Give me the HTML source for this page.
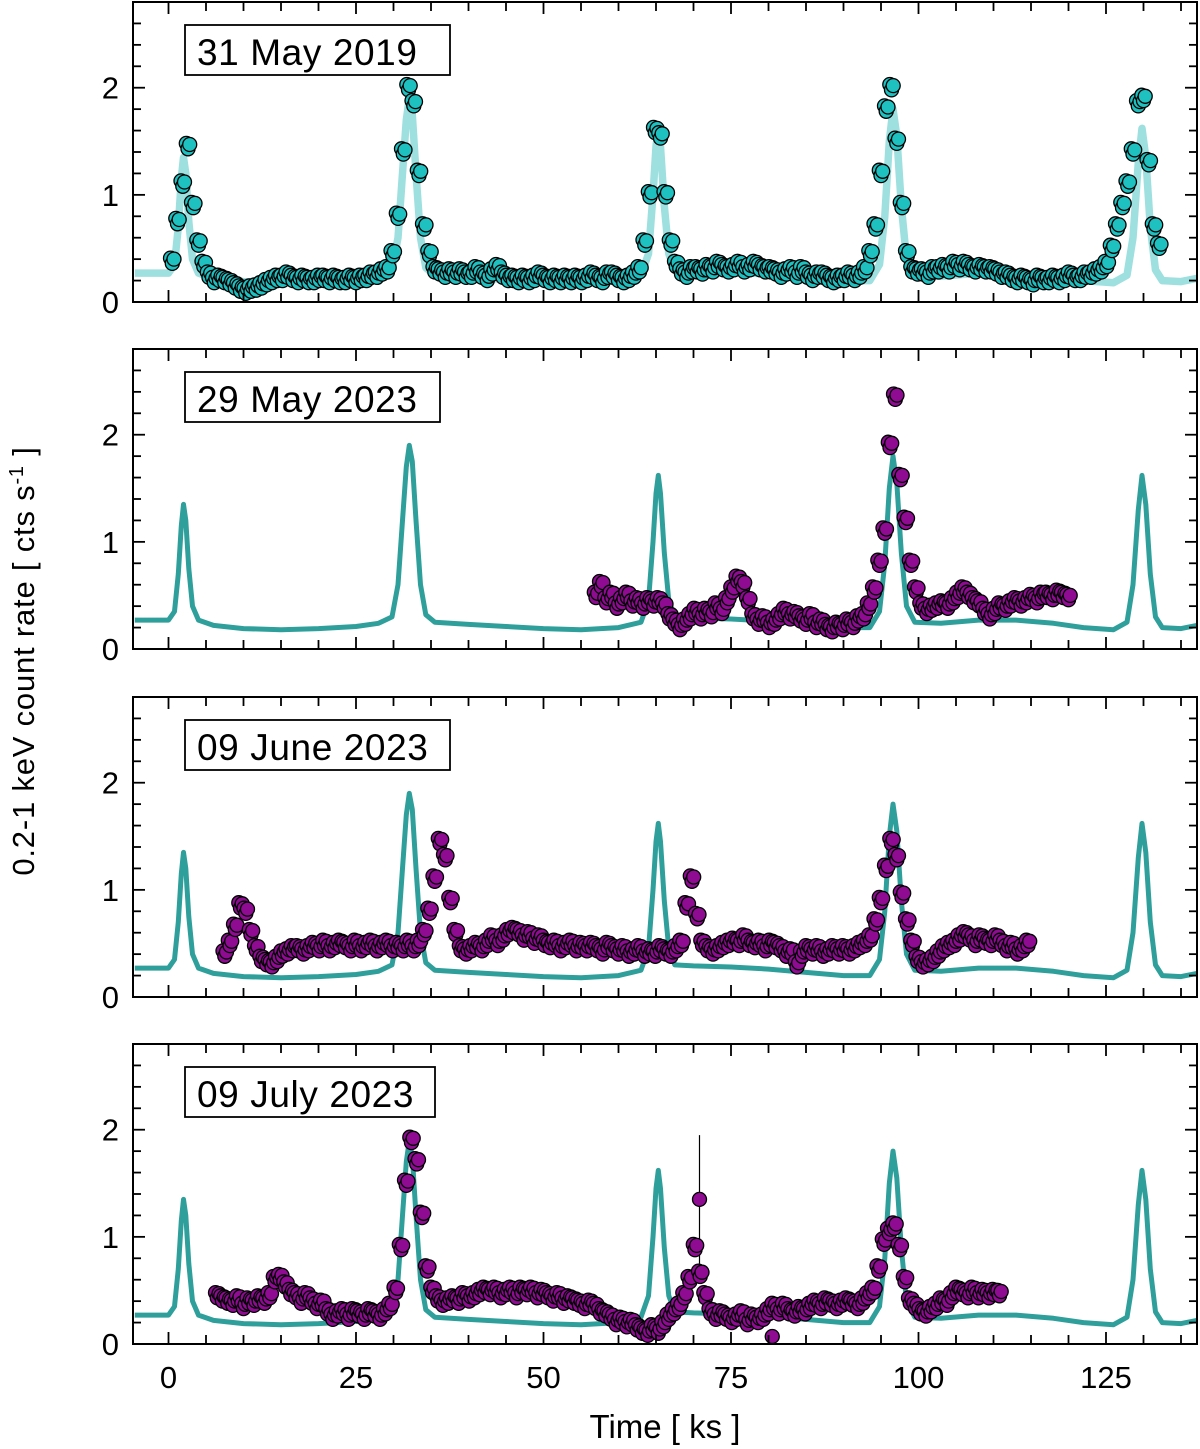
<!DOCTYPE html>
<html><head><meta charset="utf-8"><style>
html,body{margin:0;padding:0;background:#fff;}
svg{display:block;font-family:"Liberation Sans",Arial,sans-serif;}
</style></head><body>
<svg id="chart" width="1200" height="1449" viewBox="0 0 1200 1449" xmlns="http://www.w3.org/2000/svg"></svg>
<script>
// ---- data ----
const xTicks = [0, 25, 50, 75, 100, 125];
const yTicks = [0, 1, 2];
const panelLabels = ["31 May 2019", "29 May 2023", "09 June 2023", "09 July 2023"];
const modelT = [-4.5,0,0.8,1.3,1.7,2.0,2.3,2.7,3.2,4,6,10,15,20,25,28,29.8,30.6,31.2,31.7,32.1,32.5,33,33.6,34.3,35.5,40,45,50,55,60,63,64,64.6,65.0,65.3,65.6,66.1,66.7,67.5,70,75,80,85,90,93.5,94.8,95.5,96.1,96.6,97.1,97.7,98.4,99.5,103,108,113,118,122,126,127.8,128.6,129.3,129.8,130.3,130.9,131.6,132.5,135,137.1];
const modelV = [0.27,0.27,0.35,0.7,1.15,1.35,1.2,0.75,0.4,0.27,0.22,0.19,0.18,0.19,0.21,0.24,0.3,0.6,1.2,1.7,1.9,1.75,1.2,0.6,0.32,0.25,0.23,0.21,0.19,0.18,0.2,0.25,0.45,1.0,1.45,1.62,1.45,0.9,0.45,0.3,0.29,0.28,0.26,0.23,0.2,0.2,0.35,0.8,1.5,1.8,1.55,0.9,0.4,0.25,0.24,0.27,0.27,0.24,0.2,0.18,0.25,0.6,1.3,1.62,1.35,0.7,0.3,0.2,0.19,0.22];
const dataStart = [0.5, 57, 7.5, 6.5];
const dataStep = 0.7;
const rates2019 = [0.38,0.75,1.1,1.45,0.9,0.55,0.35,0.25,0.2,0.22,0.2,0.18,0.15,0.12,0.1,0.12,0.13,0.15,0.18,0.2,0.22,0.22,0.25,0.22,0.2,0.22,0.2,0.2,0.22,0.22,0.2,0.22,0.2,0.2,0.22,0.2,0.22,0.22,0.25,0.25,0.28,0.3,0.45,0.8,1.4,2.0,1.85,1.2,0.7,0.45,0.3,0.28,0.25,0.28,0.25,0.28,0.25,0.25,0.3,0.25,0.22,0.28,0.32,0.25,0.22,0.22,0.2,0.22,0.2,0.22,0.25,0.22,0.2,0.22,0.2,0.22,0.2,0.22,0.2,0.22,0.25,0.22,0.2,0.25,0.25,0.22,0.2,0.22,0.25,0.3,0.55,1.0,1.6,1.55,1.0,0.55,0.35,0.28,0.25,0.3,0.3,0.28,0.32,0.3,0.35,0.32,0.3,0.32,0.35,0.3,0.32,0.35,0.32,0.3,0.3,0.28,0.25,0.28,0.3,0.25,0.3,0.25,0.22,0.25,0.25,0.22,0.2,0.22,0.22,0.25,0.22,0.25,0.3,0.45,0.7,1.2,1.8,2.0,1.5,0.9,0.45,0.3,0.28,0.28,0.25,0.3,0.3,0.32,0.3,0.35,0.32,0.35,0.32,0.3,0.32,0.3,0.3,0.28,0.25,0.25,0.22,0.2,0.22,0.2,0.18,0.22,0.2,0.2,0.22,0.2,0.22,0.25,0.22,0.22,0.25,0.25,0.28,0.3,0.35,0.5,0.7,0.9,1.1,1.4,1.85,1.9,1.3,0.7,0.52];
const ratesMay2023 = [0.5,0.6,0.45,0.5,0.4,0.45,0.5,0.42,0.45,0.4,0.45,0.42,0.45,0.4,0.3,0.25,0.2,0.25,0.3,0.35,0.3,0.35,0.32,0.4,0.35,0.45,0.55,0.65,0.6,0.45,0.3,0.25,0.28,0.22,0.25,0.3,0.35,0.3,0.32,0.28,0.25,0.3,0.22,0.25,0.2,0.18,0.22,0.2,0.25,0.22,0.28,0.3,0.4,0.55,0.8,1.1,1.9,2.35,1.6,1.2,0.8,0.55,0.4,0.35,0.38,0.4,0.42,0.4,0.45,0.5,0.55,0.5,0.45,0.42,0.35,0.3,0.35,0.4,0.38,0.42,0.45,0.42,0.45,0.48,0.45,0.5,0.5,0.48,0.52,0.5,0.48];
const ratesJun2023 = [0.4,0.5,0.65,0.85,0.8,0.6,0.45,0.35,0.32,0.3,0.35,0.4,0.42,0.45,0.45,0.42,0.45,0.48,0.45,0.5,0.45,0.48,0.5,0.48,0.45,0.5,0.45,0.48,0.5,0.45,0.48,0.5,0.45,0.48,0.45,0.5,0.45,0.5,0.6,0.8,1.1,1.45,1.3,0.9,0.6,0.45,0.42,0.45,0.48,0.45,0.5,0.55,0.5,0.55,0.6,0.62,0.6,0.55,0.58,0.52,0.55,0.5,0.48,0.5,0.45,0.48,0.5,0.45,0.48,0.45,0.48,0.45,0.42,0.48,0.45,0.42,0.45,0.4,0.42,0.45,0.4,0.42,0.4,0.45,0.42,0.4,0.45,0.5,0.85,1.1,0.75,0.5,0.45,0.42,0.45,0.48,0.5,0.52,0.5,0.55,0.5,0.48,0.5,0.45,0.5,0.48,0.45,0.4,0.42,0.3,0.4,0.45,0.42,0.45,0.4,0.42,0.45,0.42,0.45,0.42,0.45,0.48,0.5,0.55,0.7,0.9,1.2,1.45,1.3,0.95,0.7,0.5,0.35,0.3,0.32,0.35,0.4,0.45,0.48,0.5,0.55,0.58,0.55,0.5,0.55,0.52,0.5,0.55,0.5,0.45,0.48,0.42,0.45,0.5];
const ratesJul2023 = [0.45,0.42,0.4,0.38,0.42,0.35,0.4,0.38,0.42,0.4,0.45,0.6,0.62,0.55,0.48,0.45,0.4,0.45,0.4,0.35,0.38,0.3,0.25,0.28,0.3,0.25,0.3,0.28,0.25,0.3,0.28,0.25,0.3,0.35,0.5,0.9,1.5,1.9,1.7,1.2,0.7,0.5,0.42,0.38,0.4,0.42,0.4,0.45,0.42,0.45,0.48,0.5,0.48,0.5,0.45,0.48,0.5,0.45,0.5,0.48,0.5,0.45,0.48,0.45,0.42,0.45,0.4,0.42,0.4,0.38,0.35,0.38,0.35,0.3,0.28,0.25,0.2,0.22,0.18,0.2,0.15,0.12,0.1,0.15,0.12,0.18,0.25,0.3,0.35,0.45,0.6,0.9,0.65,0.45,0.3,0.25,0.28,0.25,0.22,0.25,0.28,0.2,0.25,0.22,0.25,0.3,0.35,0.3,0.35,0.3,0.28,0.32,0.3,0.35,0.38,0.35,0.4,0.38,0.35,0.38,0.4,0.38,0.35,0.4,0.45,0.5,0.7,0.95,1.05,1.1,0.9,0.6,0.4,0.35,0.3,0.28,0.32,0.35,0.4,0.38,0.45,0.5,0.48,0.45,0.5,0.45,0.48,0.45,0.48,0.47];
const outlierT = [70.8, 80.5];
const outlierV = [1.35, 0.07];
const outlierErr = [0.6, 0.03];
const allRates = [rates2019, ratesMay2023, ratesJun2023, ratesJul2023];

// ---- layout ----
const NS = "http://www.w3.org/2000/svg";
const svg = document.getElementById("chart");
const L = 133, R = 1197;
const panelTop = [2, 349, 697, 1044];
const panelH = 300;
const yMax = 2.8;
const xScale = t => 168.5 + t * 7.5;
function yScale(p, v) { return panelTop[p] + panelH - v * (panelH / yMax); }
const labelBoxW = [265, 255, 265, 250];

function mk(tag, attrs, parent) {
  const e = document.createElementNS(NS, tag);
  for (const k in attrs) e.setAttribute(k, attrs[k]);
  (parent || svg).appendChild(e);
  return e;
}

for (let p = 0; p < 4; p++) {
  const g = mk("g", {});
  
  
  const top = panelTop[p], bot = top + panelH;
  const clipId = "clip" + p;
  const cp = mk("clipPath", { id: clipId }, g);
  mk("rect", { x: L, y: top, width: R - L, height: panelH }, cp);

  // model curve
  let d = "";
  for (let i = 0; i < modelT.length; i++) {
    d += (i ? "L" : "M") + xScale(modelT[i]).toFixed(1) + "," + yScale(p, modelV[i]).toFixed(1);
  }
  const model = mk("path", { d: d, fill: "none", stroke: p === 0 ? "#9ee0df" : "#2f9f9b", "stroke-width": p === 0 ? 7.5 : 5, "stroke-linejoin": "round", "clip-path": "url(#" + clipId + ")" }, g);
  
  

  // data points (each bin drawn as a short cluster of markers to mimic dense sampling)
  const fill = p === 0 ? "#1fc0c0" : "#8e0b92";
  const dg = mk("g", { "clip-path": "url(#" + clipId + ")" }, g);
  
  
  if (p === 3) {
    for (let i = 0; i < outlierT.length; i++) {
      const x = xScale(outlierT[i]);
      const eb = mk("line", { x1: x, x2: x, y1: yScale(p, outlierV[i] + outlierErr[i]), y2: yScale(p, outlierV[i] - outlierErr[i]), stroke: "#000", "stroke-width": 1.2 }, dg);
      
      
    }
  }
  const rates = allRates[p];
  const offs = [[-0.23, 0.03], [0.0, -0.02], [0.23, 0.02]];
  for (let i = 0; i < rates.length; i++) {
    const t = dataStart[p] + i * dataStep;
    for (const o of offs) {
      const c = mk("circle", { cx: xScale(t + o[0]).toFixed(1), cy: yScale(p, rates[i] + o[1]).toFixed(1), r: 7, fill: fill, stroke: "#000", "stroke-width": 1.3 }, dg);
      
      
    }
  }
  if (p === 3) {
    for (let i = 0; i < outlierT.length; i++) {
      const c = mk("circle", { cx: xScale(outlierT[i]), cy: yScale(p, outlierV[i]), r: 7, fill: fill, stroke: "#000", "stroke-width": 1.3 }, dg);
      
      
    }
  }

  // frame
  const fr = mk("rect", { x: L, y: top, width: R - L, height: panelH, fill: "none", stroke: "#000", "stroke-width": 2 }, g);
  
  

  // x ticks
  for (let t = 0; t <= 135; t += 5) {
    const x = xScale(t);
    const len = t % 25 === 0 ? 12 : 9;
    mk("line", { x1: x, x2: x, y1: bot, y2: bot - len, stroke: "#000", "stroke-width": 1.8 }, g);
    mk("line", { x1: x, x2: x, y1: top, y2: top + len, stroke: "#000", "stroke-width": 1.8 }, g);
  }
  // y ticks
  for (let k = 0; k <= 13; k++) {
    const v = k * 0.2;
    const y = yScale(p, v);
    const len = k % 5 === 0 ? 12 : 8;
    mk("line", { x1: L, x2: L + len, y1: y, y2: y, stroke: "#000", "stroke-width": 1.8 }, g);
    mk("line", { x1: R, x2: R - len, y1: y, y2: y, stroke: "#000", "stroke-width": 1.8 }, g);
  }
  for (const v of yTicks) {
    const tl = mk("text", { x: 119, y: yScale(p, v) + 11, "text-anchor": "end", "font-size": 31 }, g);
    tl.textContent = v;
    
    
  }

  // label box
  const lb = mk("g", {}, g);
  
  
  mk("rect", { x: 185, y: top + 23, width: labelBoxW[p], height: 50, fill: "#fff", stroke: "#000", "stroke-width": 1.8 }, lb);
  const lt = mk("text", { x: 197, y: top + 63, "font-size": 37, "letter-spacing": "0.6" }, lb);
  lt.textContent = panelLabels[p];
}

// x tick labels
for (const t of xTicks) {
  const tl = mk("text", { x: xScale(t), y: 1388, "text-anchor": "middle", "font-size": 31 });
  tl.textContent = t;
  
  
}
const xt = mk("text", { x: 665, y: 1438, "text-anchor": "middle", "font-size": 33 });
xt.textContent = "Time [ ks ]";



const yt = mk("text", { x: 0, y: 0, "text-anchor": "middle", "font-size": 31, "letter-spacing": "0.8", transform: "translate(34,661) rotate(-90)" });


yt.innerHTML = '0.2-1 keV count rate [ cts s<tspan dy="-11" font-size="20">-1</tspan><tspan dy="11"> ]</tspan>';
</script>
</body></html>
